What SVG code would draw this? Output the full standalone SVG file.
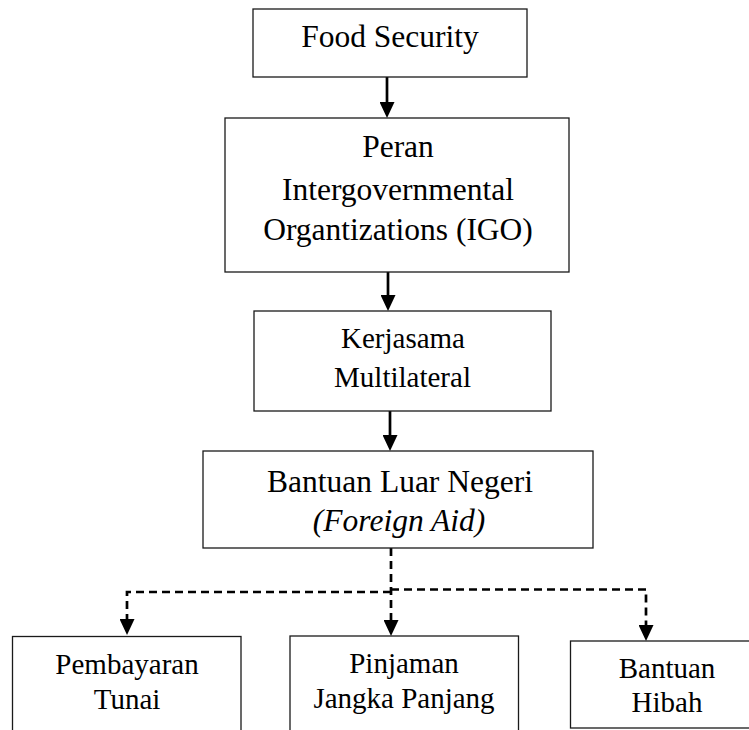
<svg xmlns="http://www.w3.org/2000/svg" width="749" height="730" viewBox="0 0 749 730">
<style>
.box{fill:#fff;stroke:#1a1a1a;stroke-width:1.3}
.t{font-family:"Liberation Serif","Times New Roman",serif;fill:#000;text-anchor:middle}
.big{font-size:31.5px}
.mid{font-size:29px}
.conn{fill:none;stroke:#000;stroke-width:2.7}
.dash{stroke-dasharray:8 5}
</style>
<defs>
<marker id="ah" markerUnits="userSpaceOnUse" markerWidth="16" markerHeight="15" refX="6" refY="7.5" orient="auto">
<path d="M0,0 L16,7.5 L0,15 Z" fill="#000"/>
</marker>
</defs>
<rect width="749" height="730" fill="#fff"/>
<g id="connectors">
<path class="conn" d="M387,77 V108" marker-end="url(#ah)"/>
<path class="conn" d="M388,272 V301" marker-end="url(#ah)"/>
<path class="conn" d="M390,411 V441" marker-end="url(#ah)"/>
<path class="conn dash" d="M391,548 V626" marker-end="url(#ah)"/>
<path class="conn dash" d="M391,592 H127 V625" marker-end="url(#ah)"/>
<path class="conn dash" d="M391,589.5 H646 V631" marker-end="url(#ah)"/>
</g>
<g id="food-security">
<rect class="box" x="253" y="9" width="274" height="68"/>
<text class="t big" x="390" y="47">Food Security</text>
</g>
<g id="peran-igo">
<rect class="box" x="225" y="118" width="344" height="154"/>
<text class="t big" x="398" y="157">Peran</text>
<text class="t big" x="398" y="199.5">Intergovernmental</text>
<text class="t big" x="398" y="239.5">Organtizations (IGO)</text>
</g>
<g id="kerjasama">
<rect class="box" x="254" y="311" width="297" height="100"/>
<text class="t mid" x="403" y="348">Kerjasama</text>
<text class="t mid" x="402.5" y="387">Multilateral</text>
</g>
<g id="bantuan-luar-negeri">
<rect class="box" x="203" y="451" width="390" height="97"/>
<text class="t big" x="400" y="492">Bantuan Luar Negeri</text>
<text class="t big" x="399" y="531" font-style="italic">(Foreign Aid)</text>
</g>
<g id="pembayaran-tunai">
<rect class="box" x="12.5" y="636.5" width="228.5" height="110"/>
<text class="t mid" x="127" y="674">Pembayaran</text>
<text class="t mid" x="127" y="709">Tunai</text>
</g>
<g id="pinjaman">
<rect class="box" x="290" y="636" width="228.5" height="110"/>
<text class="t mid" x="404" y="673">Pinjaman</text>
<text class="t mid" x="404" y="708">Jangka Panjang</text>
</g>
<g id="bantuan-hibah">
<rect class="box" x="570.5" y="641" width="200" height="87"/>
<text class="t mid" x="667" y="678">Bantuan</text>
<text class="t mid" x="667" y="712">Hibah</text>
</g>
</svg>
